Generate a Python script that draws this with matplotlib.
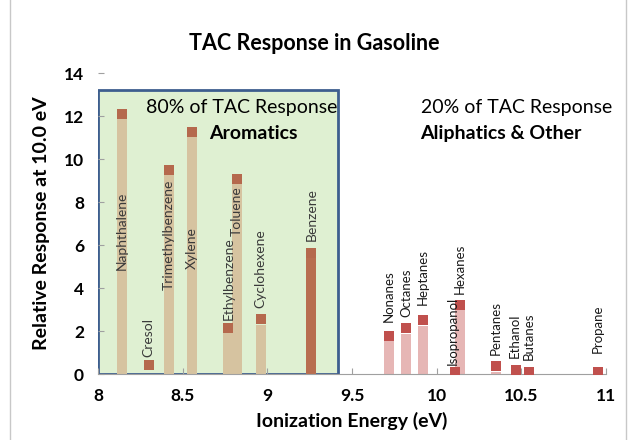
import matplotlib.pyplot as plt
from matplotlib.patches import Rectangle

plt.rcParams['font.family'] = ['Lato', 'DejaVu Sans']

# ionization energy (eV), response (marker), bar height
aromaticos = ['Naphthalene', 'Cresol', 'Trimethylbenzene', 'Xylene',
              'Ethylbenzene', 'Toluene', 'Cyclohexene', 'Benzene']
ie_arom = [8.14, 8.30, 8.42, 8.555, 8.77, 8.82, 8.96, 9.26]
resp_arom = [12.1, 0.4, 9.5, 11.28, 2.16, 9.05, 2.58, 5.65]
barra_arom = [11.9, 0.0, 9.26, 11.04, 1.9, 8.84, 2.28, 5.85]

alifaticos = ['Nonanes', 'Octanes', 'Heptanes', 'Isopropanol', 'Hexanes',
              'Pentanes', 'Ethanol', 'Butanes', 'Propane']
ie_alif = [9.72, 9.82, 9.92, 10.11, 10.135, 10.35, 10.47, 10.545, 10.95]
resp_alif = [1.79, 2.12, 2.53, 0.1, 3.19, 0.35, 0.2, 0.1, 0.1]
barra_alif = [1.53, 1.86, 2.25, 0.05, 2.98, 0.1, 0.0, 0.0, 0.0]

# where each name label starts (y, bottom of rotated text)
y_etq_arom = [4.84, 0.8, 3.9, 4.9, 2.5, 6.4, 3.07, 6.2]
y_etq_alif = [2.42, 2.65, 3.2, 0.42, 3.72, 0.88, 0.74, 0.65, 1.0]
dx_etq_alif = [0, 0, 0, -0.015, 0.0, 0, -0.01, 0.0, 0]

fig = plt.figure(figsize=(6.29, 4.40), dpi=100)
ax = fig.add_axes([0.1558, 0.15, 0.8076, 0.684])

# caja verde de aromaticos
ax.add_patch(Rectangle((8.0, 0.0), 1.42, 13.2, facecolor='#DFF0D2',
                       edgecolor='#3D5E8E', linewidth=2, zorder=0.5))

ancho = 0.059
colores_barra = ['#D6C3A0'] * 7 + ['#B86E50']
ax.bar(ie_arom, barra_arom, width=ancho, color=colores_barra, zorder=2)
ax.bar(ie_alif, barra_alif, width=ancho, color='#E6B6B5', zorder=2)
ax.scatter(ie_arom, resp_arom, marker='s', s=48, color='#B5694D', zorder=3,
           linewidths=0)
ax.scatter(ie_alif, resp_alif, marker='s', s=48, color='#C0504D', zorder=3,
           linewidths=0)

for nombre, x, y in zip(aromaticos, ie_arom, y_etq_arom):
    ax.text(x, y, nombre, rotation=90, ha='center', va='bottom',
            fontsize=10, color='#3A3A3A', zorder=4)
for nombre, x, y, dx in zip(alifaticos, ie_alif, y_etq_alif, dx_etq_alif):
    ax.text(x + dx, y, nombre, rotation=90, ha='center', va='bottom',
            fontsize=9.5, color='#1A1A1A', zorder=4)

ax.text(8.85, 12.42, '80% of TAC Response', ha='center', va='center', fontsize=14)
ax.text(8.92, 11.2, 'Aromatics', ha='center', va='center', fontsize=14,
        fontweight='bold')
ax.text(10.47, 12.42, '20% of TAC Response', ha='center', va='center', fontsize=14)
ax.text(10.38, 11.2, 'Aliphatics & Other', ha='center', va='center', fontsize=14,
        fontweight='bold')

ax.set_xlim(8, 11)
ax.set_ylim(0, 14)
ax.set_xticks([8, 8.5, 9, 9.5, 10, 10.5, 11])
ax.set_xticklabels(['8', '8.5', '9', '9.5', '10', '10.5', '11'])
ax.set_yticks(range(0, 15, 2))
for lbl in ax.get_xticklabels() + ax.get_yticklabels():
    lbl.set_fontweight('bold')
ax.tick_params(axis='both', direction='in', labelsize=12.5, color='#A0A0A0',
               length=4, pad=10)
for lado in ['top', 'right', 'left']:
    ax.spines[lado].set_visible(False)
ax.spines['bottom'].set_color('#A0A0A0')

ax.set_xlabel('Ionization Energy (eV)', fontsize=14, fontweight='bold', labelpad=6)
ax.set_ylabel('Relative Response at 10.0 eV', fontsize=14, fontweight='bold',
              labelpad=10)
fig.suptitle('TAC Response in Gasoline', fontsize=15.5, fontweight='bold', y=0.925)

# marco gris de la figura
fig.patches.append(Rectangle((0.016, -0.01), 0.98, 1.02, transform=fig.transFigure,
                             fill=False, edgecolor='#C8C8C8', linewidth=1))

fig.savefig('out.png', dpi=100)
